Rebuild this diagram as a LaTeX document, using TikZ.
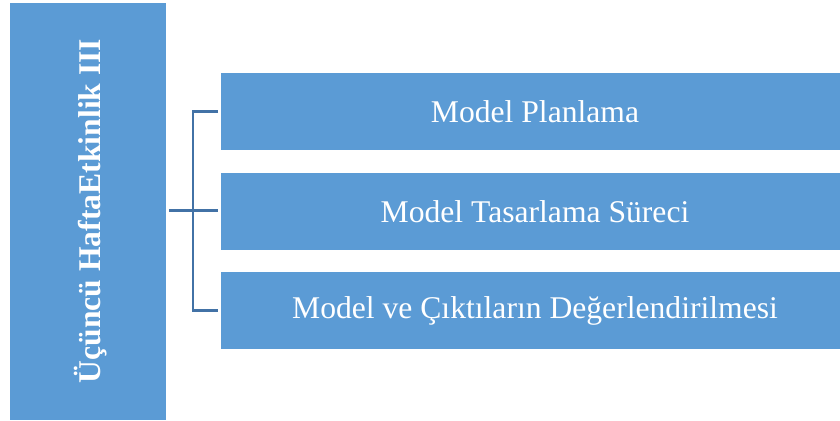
\documentclass[tikz,border=0pt]{standalone}
\usepackage{fontspec}
\setmainfont{Liberation Serif}
\usepackage{tikz}

\definecolor{kutu}{RGB}{91,155,213}
\definecolor{cizgi}{RGB}{66,114,166}

\tikzset{
  kutu/.style={fill=kutu, draw=none, text=white, inner sep=0pt,
    font=\fontsize{18}{22}\selectfont},
  adim/.style={kutu, minimum width=12.38cm, minimum height=1.54cm},
  bag/.style={draw=cizgi, line width=1.7pt}
}

\begin{document}
\begin{tikzpicture}[x=0.02cm, y=-0.02cm]
\useasboundingbox (0,0) rectangle (840,421);

% Sol dikey kutu
\node[kutu, minimum width=3.12cm, minimum height=8.34cm] (hafta) at (88,211.5) {};
\node[text=white, rotate=90, font=\fontsize{18}{22}\selectfont\bfseries] (baslik) at (91,211) {Üçüncü HaftaEtkinlik III};

% Sağdaki adımlar
\node[adim] (planlama) at (530.5,111.5) {\hspace*{0.18cm}Model Planlama};
\node[adim] (tasarlama) at (530.5,211.5) {\hspace*{0.18cm}Model Tasarlama Süreci};
\node[adim] (cikti) at (530.5,311) {\hspace*{0.18cm}Model ve Çıktıların Değerlendirilmesi};

% Bağlantı noktaları
\coordinate (bas) at (169,211);
\coordinate (orta) at (193,211);
\coordinate (ust) at (193,112);
\coordinate (alt) at (193,311);
\coordinate (ustuc) at (218,112);
\coordinate (ortauc) at (218,211);
\coordinate (altuc) at (218,311);

% Köşeli parantez
\draw[bag] (bas) -- (ortauc);
\draw[bag] (ustuc) -- (ust) -- (alt) -- (altuc);

\end{tikzpicture}
\end{document}
